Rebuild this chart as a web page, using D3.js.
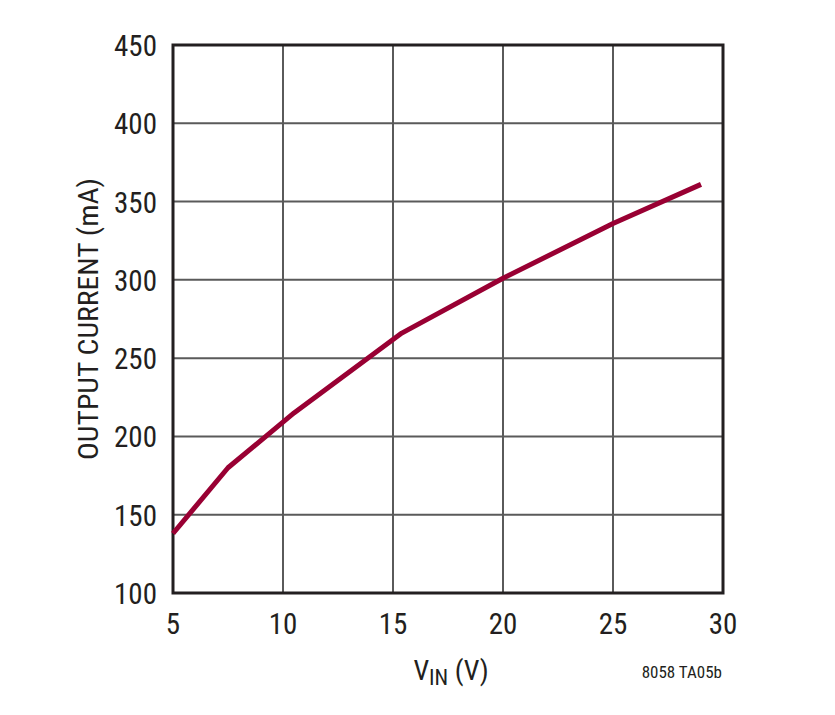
<!DOCTYPE html>
<html><head><meta charset="utf-8">
<script src="https://cdn.jsdelivr.net/npm/d3@7"></script>
<style>
body{margin:0;background:#fff;}
text{font-family:"Liberation Sans Narrow","Arial Narrow","Roboto Condensed",sans-serif;fill:#231f20;}
</style></head><body>
<svg id="c" width="835" height="715"></svg>
<script>
const vin = [5, 7.5, 10.5, 15.4, 20, 25, 29];
const current = [138, 180, 215, 266, 301, 336, 361];
const xTicks = [5, 10, 15, 20, 25, 30];
const yTicks = [100, 150, 200, 250, 300, 350, 400, 450];

const svg = d3.select("#c");
const m = {l:173, r:723, t:45, b:593};
const x = d3.scaleLinear().domain([5,30]).range([m.l, m.r]);
const y = d3.scaleLinear().domain([100,450]).range([m.b, m.t]);

const g = svg.append("g");
// grid
g.selectAll("line.vx").data(xTicks.slice(1,-1)).enter().append("line")
  .attr("x1", d=>x(d)).attr("x2", d=>x(d)).attr("y1", m.t).attr("y2", m.b)
  .attr("stroke", "#5a5a5a").attr("stroke-width", 2);
g.selectAll("line.hy").data(yTicks.slice(1,-1)).enter().append("line")
  .attr("y1", d=>y(d)).attr("y2", d=>y(d)).attr("x1", m.l).attr("x2", m.r)
  .attr("stroke", "#5a5a5a").attr("stroke-width", 2);
// frame
g.append("rect").attr("x", m.l).attr("y", m.t).attr("width", m.r-m.l).attr("height", m.b-m.t)
  .attr("fill", "none").attr("stroke", "#231f20").attr("stroke-width", 3);

// tick labels
svg.selectAll("text.xt").data(xTicks).enter().append("text")
  .attr("x", d=>x(d)).attr("y", 634).attr("text-anchor", "middle")
  .attr("font-size", 29).text(d=>d);
svg.selectAll("text.yt").data(yTicks).enter().append("text")
  .attr("x", 157).attr("y", d=>y(d)+11).attr("text-anchor", "end")
  .attr("font-size", 29).text(d=>d);

// line
const line = d3.line().x((d,i)=>x(vin[i])).y(d=>y(d));
svg.append("path").datum(current).attr("d", line)
  .attr("fill", "none").attr("stroke", "#990033").attr("stroke-width", 5)
  .attr("stroke-linejoin", "round");

// axis titles
svg.append("text").attr("transform", "translate(98,319) rotate(-90)")
  .attr("text-anchor", "middle").attr("font-size", 28)
  .attr("textLength", 282).attr("lengthAdjust", "spacingAndGlyphs")
  .text("OUTPUT CURRENT (mA)");
const xt = svg.append("text").attr("x", 451).attr("y", 680).attr("text-anchor", "middle").attr("font-size", 28);
xt.append("tspan").text("V");
xt.append("tspan").attr("font-size", 22).attr("dy", 5).text("IN");
xt.append("tspan").attr("dy", -5).text(" (V)");
svg.append("text").attr("x", 722).attr("y", 678).attr("text-anchor", "end")
  .attr("font-size", 17).text("8058 TA05b");
</script></body></html>
